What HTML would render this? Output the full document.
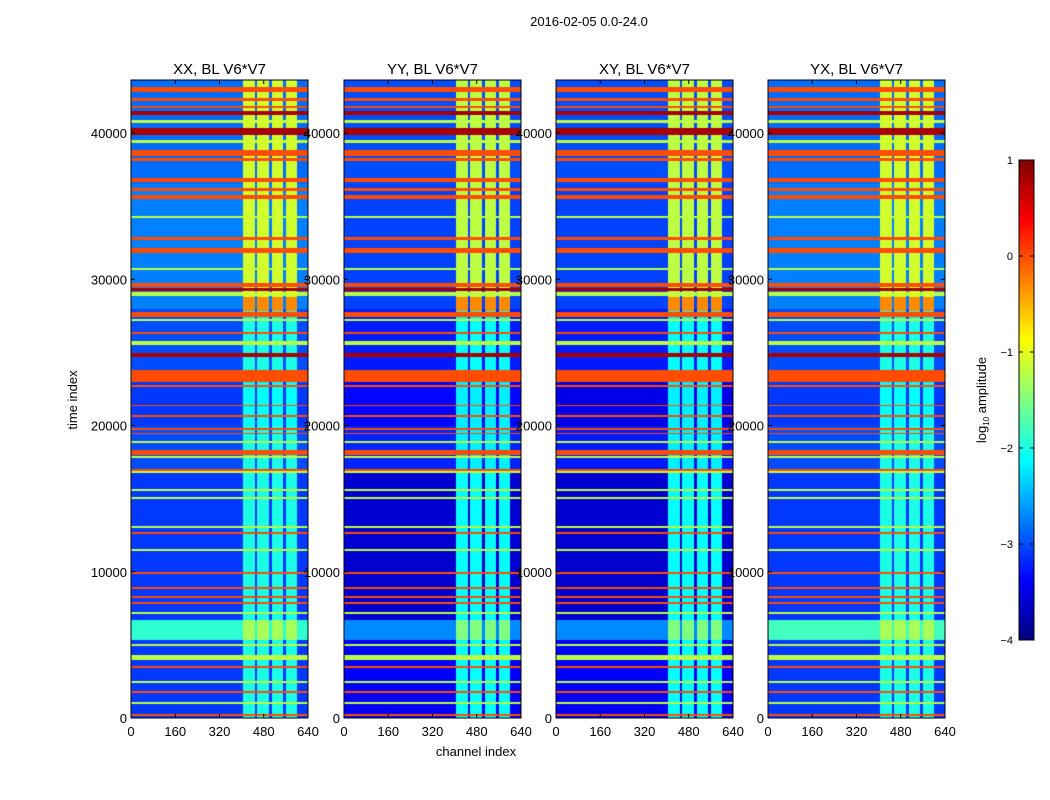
<!DOCTYPE html>
<html><head><meta charset="utf-8"><style>
body{margin:0;background:#fff;width:1050px;height:800px;overflow:hidden;font-family:"Liberation Sans",sans-serif}
#wrap{position:relative;width:1050px;height:800px}
canvas,svg{position:absolute;left:0;top:0}
</style></head><body>
<div id="wrap">
<canvas id="cv" width="1050" height="800"></canvas>
<svg id="sv" width="1050" height="800"></svg>
</div>
<script>
// ---- data ----
const panelTitles = ["XX, BL V6*V7","YY, BL V6*V7","XY, BL V6*V7","YX, BL V6*V7"];
const xTicks = [0,160,320,480,640];
const yTicks = [0,10000,20000,30000,40000];
const cbTicks = [1,0,-1,-2,-3,-4];
// horizontal RFI bands: start time, end time, log10 amplitude
const bandStart = [42800,42190,41710,41230,40690,39860,39290,38460,38090,36650,36030,35480,34200,32680,31800,30630,29470,29200,28850,27420,27150,26260,25500,24680,22970,22630,21300,20600,19700,19420,18820,17980,17800,16750,16900,15550,15000,13000,12600,11450,9880,8850,8230,7820,7100,4950,3970,3440,2410,1730,980,150];
const bandEnd   = [43150,42400,41850,41500,40890,40350,39520,38840,38290,36920,36240,35750,34350,32890,32140,30770,29740,29400,29130,27760,27280,26390,25770,24960,23790,22770,21400,20700,19800,19520,18920,18330,17900,16900,17030,15650,15100,13100,12700,11550,9980,8950,8330,7920,7250,5050,4300,3540,2510,1830,1080,250];
const bandLevel = [0,0,0,0.8,-1.2,0.8,-1.2,0,0,0,0,0,-1.2,0,0,-1.2,0,0.8,-1.2,0,-1.2,0,-1.2,0.8,0,0,0,0,0,0,-1.2,0,-1.2,-1.2,0,-1.2,-1.2,-1.2,0,-1.2,0,0,0,0,-1.2,-1.2,-1.2,0,-1.2,0,-1.2,0];
const segStart = [0,5330,6700,17000,20000,23000,28000,36500];
const segEnd   = [5330,6700,17000,20000,23000,28000,36500,43700];
const bgXX = [-3.1,-1.9,-3.1,-3.0,-3.1,-3.0,-2.75,-2.85];
const bgYY = [-3.4,-2.7,-3.6,-3.2,-3.35,-3.25,-3.05,-3.0];
const bgXY = [-3.4,-2.7,-3.6,-3.25,-3.5,-3.25,-3.05,-3.0];
const bgYX = [-3.1,-1.8,-3.1,-3.0,-3.1,-3.0,-2.75,-2.85];
const rfiXX = [-2.0,-1.3,-2.0,-2.0,-2.1,-2.0,-1.1,-1.1];
const rfiYY = [-2.1,-1.5,-2.1,-2.2,-2.2,-2.1,-1.2,-1.2];
const rfiXY = [-2.1,-1.5,-2.1,-2.2,-2.2,-2.1,-1.2,-1.2];
const rfiYX = [-2.0,-1.3,-2.0,-2.0,-2.1,-2.0,-1.1,-1.1];
const blockStart = [405,455,510,560];
const blockEnd   = [450,500,550,600];

// ---- layout ----
const panelX = [131,344,556,768], panelW = 177, plotTop = 80, plotBottom = 718;
const tMax = 43624, chMax = 640, vmin = -4, vmax = 1;
const bgs = [bgXX,bgYY,bgXY,bgYX], rfis = [rfiXX,rfiYY,rfiXY,rfiYX];
function yScale(t){return plotBottom - (t/tMax)*(plotBottom-plotTop);}
function xScale(p,c){return panelX[p] + c/chMax*panelW;}
function clamp01(v){return Math.max(0,Math.min(1,v));}
function jet(v){const x=clamp01((v-vmin)/(vmax-vmin));
 return [255*clamp01(1.5-Math.abs(4*x-3)),255*clamp01(1.5-Math.abs(4*x-2)),255*clamp01(1.5-Math.abs(4*x-1))];}
function valueAt(p,t,c){
 let v=null;
 for(let i=0;i<bandStart.length;i++){ if(t>=bandStart[i]&&t<bandEnd[i]){v=bandLevel[i];break;} }
 let s=0; for(let i=0;i<segStart.length;i++){ if(t>=segStart[i]&&t<segEnd[i]){s=i;break;} }
 let inB=false; for(let i=0;i<blockStart.length;i++){ if(c>=blockStart[i]&&c<blockEnd[i]) inB=true; }
 let b = inB ? rfis[p][s] : bgs[p][s];
 if(inB && t>=27800 && t<28800) b=-0.3;
 if(v===null) return b;
 return Math.max(v,b);
}
const cv=document.getElementById('cv'),ctx=cv.getContext('2d');
const img=ctx.createImageData(1050,800);
for(let p=0;p<4;p++){
 for(let y=plotTop;y<plotBottom;y++){
  const t=(plotBottom-y-0.5)/(plotBottom-plotTop)*tMax;
  for(let x=panelX[p];x<panelX[p]+panelW;x++){
   const c=(x-panelX[p]+0.5)/panelW*chMax;
   const col=jet(valueAt(p,t,c)); const k=(y*1050+x)*4;
   img.data[k]=col[0];img.data[k+1]=col[1];img.data[k+2]=col[2];img.data[k+3]=255;
  }
 }
}
const cbX=1019,cbW=15,cbTop=160,cbBot=640;
for(let y=cbTop;y<cbBot;y++){const v=vmax-(y-cbTop+0.5)/(cbBot-cbTop)*(vmax-vmin);const col=jet(v);
 for(let x=cbX;x<cbX+cbW;x++){const k=(y*1050+x)*4;img.data[k]=col[0];img.data[k+1]=col[1];img.data[k+2]=col[2];img.data[k+3]=255;}}
ctx.putImageData(img,0,0);

// ---- axes svg ----
const NS="http://www.w3.org/2000/svg",sv=document.getElementById('sv');
function mk(tag,attrs,parent){const e=document.createElementNS(NS,tag);for(const k in attrs)e.setAttribute(k,attrs[k]);(parent||sv).appendChild(e);return e;}
function txt(s,attrs,parent){const e=mk('text',Object.assign({'font-family':'Liberation Sans, sans-serif','font-size':13,fill:'#000'},attrs),parent);e.textContent=s;return e;}
for(let p=0;p<4;p++){
 const g=mk('g',{});
 
 
 const r=mk('rect',{x:panelX[p],y:plotTop,width:panelW,height:plotBottom-plotTop,fill:'none',stroke:'#000','stroke-width':1},g);
 
 
 const tt=txt(panelTitles[p],{x:panelX[p]+panelW/2,y:74,'text-anchor':'middle','font-size':15},g);
 
 
 xTicks.forEach(v=>{const x=xScale(p,v);
  mk('line',{x1:x,x2:x,y1:plotBottom,y2:plotBottom-4,stroke:'#000'},g);
  mk('line',{x1:x,x2:x,y1:plotTop,y2:plotTop+4,stroke:'#000'},g);
  const l=txt(String(v),{x:x,y:plotBottom+18,'text-anchor':'middle'},g);
  
  });
 yTicks.forEach(v=>{const y=yScale(v);
  mk('line',{x1:panelX[p],x2:panelX[p]+4,y1:y,y2:y,stroke:'#000'},g);
  mk('line',{x1:panelX[p]+panelW,x2:panelX[p]+panelW-4,y1:y,y2:y,stroke:'#000'},g);
  const l=txt(String(v),{x:panelX[p]-4,y:y+5,'text-anchor':'end'},g);
  
  });
}
const st=txt('2016-02-05 0.0-24.0',{x:589,y:26,'text-anchor':'middle'});


const xl=txt('channel index',{x:476,y:756,'text-anchor':'middle'});


const yl=txt('time index',{x:0,y:0,'text-anchor':'middle',transform:'translate(77,400) rotate(-90)'});


const cbr=mk('rect',{x:cbX,y:cbTop,width:cbW,height:cbBot-cbTop,fill:'none',stroke:'#000'});


cbTicks.forEach(v=>{const y=cbTop+(vmax-v)/(vmax-vmin)*(cbBot-cbTop);
 mk('line',{x1:cbX,x2:cbX+4,y1:y,y2:y,stroke:'#000'});
 mk('line',{x1:cbX+cbW,x2:cbX+cbW-4,y1:y,y2:y,stroke:'#000'});
 const l=txt(v<0?'\u2212'+(-v):String(v),{x:cbX-6,y:y+4,'text-anchor':'end','font-size':11});
 
 });
const cl=mk('text',{'font-family':'Liberation Sans, sans-serif','font-size':13,'text-anchor':'middle',transform:'translate(986,400) rotate(-90)'});


const t1=mk('tspan',{},cl); t1.textContent='log';
const t2=mk('tspan',{'font-size':8,dy:3},cl); t2.textContent='10';
const t3=mk('tspan',{dy:-3},cl); t3.textContent=' amplitude';
</script>
</body></html>
